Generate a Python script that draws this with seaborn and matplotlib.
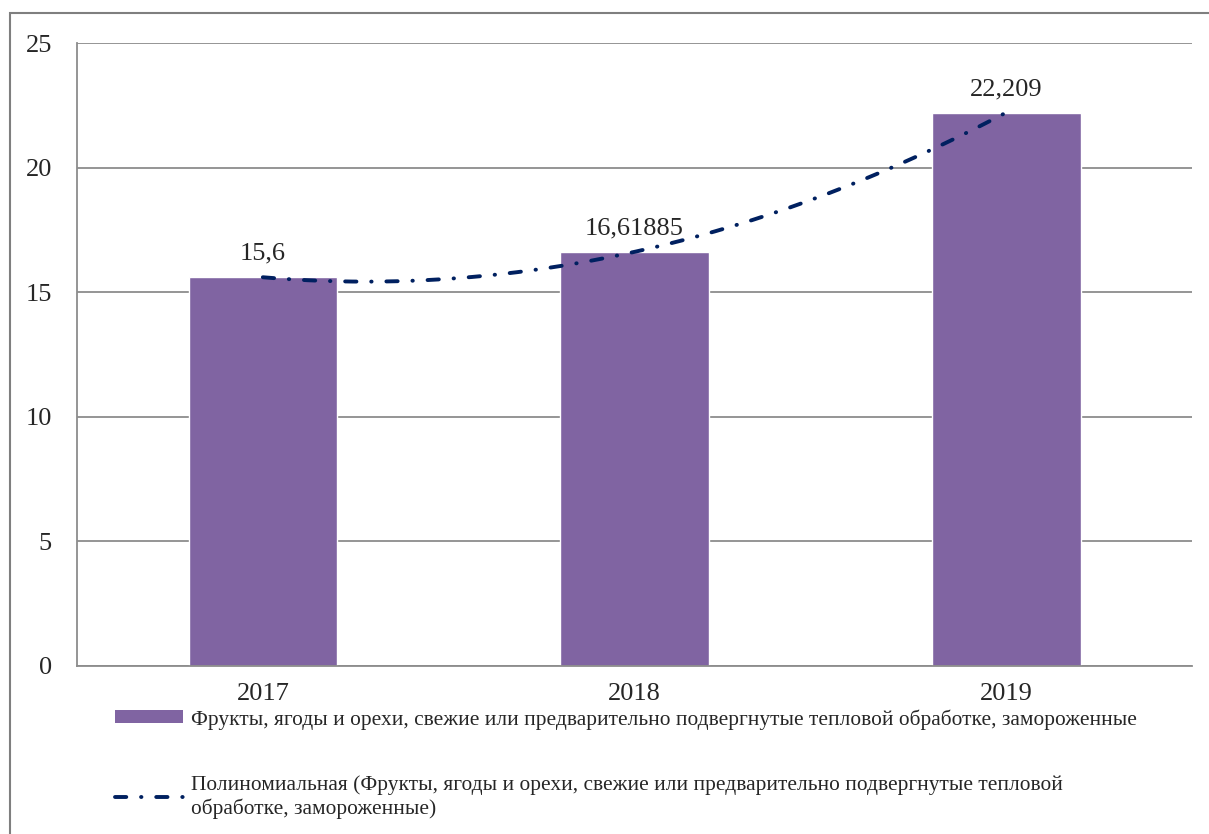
import numpy as np
import pandas as pd
import matplotlib
matplotlib.use("Agg")
import matplotlib.pyplot as plt
import seaborn as sns
from matplotlib.patches import Rectangle
from matplotlib.lines import Line2D

# данные
years = ["2017", "2018", "2019"]
values = [15.6, 16.61885, 22.209]
value_labels = ["15,6", "16,61885", "22,209"]
y_ticks = [0, 5, 10, 15, 20, 25]

series_name = ("Фрукты, ягоды и орехи, свежие или предварительно "
               "подвергнутые тепловой обработке, замороженные")
trend_name = ("Полиномиальная (Фрукты, ягоды и орехи, свежие или предварительно "
              "подвергнутые тепловой\nобработке, замороженные)")

bar_color = "#8064A2"
trend_color = "#002060"
grid_color = "#8c8c8c"
trend_style = (0, (2.9, 3.8, 0.1, 3.8))

sns.set_style("white")
plt.rcParams["font.family"] = ["Liberation Serif", "DejaVu Serif"]

df = pd.DataFrame({"year": years, "value": values})

fig = plt.figure(figsize=(12.09, 8.34), dpi=100)
ax = fig.add_axes([77 / 1209, 1 - 666 / 834, (1192 - 77) / 1209, (666 - 43) / 834])

sns.barplot(data=df, x="year", y="value", color=bar_color, saturation=1,
            width=0.4, ax=ax, zorder=2)

# полиномиальный тренд (2-я степень)
xs = np.arange(len(values))
coef = np.polyfit(xs, values, 2)
xx = np.linspace(0, len(values) - 1, 200)
ax.plot(xx, np.polyval(coef, xx), color=trend_color, lw=2.8,
        linestyle=trend_style, dash_capstyle="round", zorder=3)

# подписи значений
for i, (v, lab) in enumerate(zip(values, value_labels)):
    ax.text(i, v + 0.5, lab, ha="center", va="bottom", fontsize=19)

ax.set_ylim(0, 25)
ax.set_xlim(-0.5, 2.5)
ax.set_yticks(y_ticks)
ax.yaxis.grid(True, color=grid_color, lw=1.3, zorder=0)
ax.set_axisbelow(True)
ax.set_xlabel("")
ax.set_ylabel("")

for s in ["top", "right"]:
    ax.spines[s].set_visible(False)
for s in ["left", "bottom"]:
    ax.spines[s].set_color(grid_color)
    ax.spines[s].set_linewidth(1.3)

ax.tick_params(axis="y", length=6, width=1.3, color=grid_color, labelsize=19, pad=12)
ax.tick_params(axis="x", which="major", length=0, labelsize=19, pad=12)
ax.set_xticks([-0.5, 0.5, 1.5, 2.5], minor=True)
ax.tick_params(axis="x", which="minor", length=6, width=1.3, color=grid_color)

# легенда
handles = [
    Rectangle((0, 0), 1, 1, facecolor=bar_color, edgecolor="none"),
    Line2D([0], [0], color=trend_color, lw=2.8, linestyle=trend_style,
           dash_capstyle="round"),
]
fig.legend(handles, [series_name, trend_name], loc="upper left",
           bbox_to_anchor=(115 / 1209, 1 - 709 / 834), frameon=False,
           fontsize=15.4, handlelength=3.2, handleheight=0.55, handletextpad=0.33,
           labelspacing=2.15, borderpad=0, borderaxespad=0)

# рамка диаграммы
fig.patches.append(Rectangle((10 / 1209, -0.2), 2, 1.2 - 13 / 834,
                             transform=fig.transFigure, fill=False,
                             edgecolor="#7f7f7f", lw=1.5))

fig.savefig("out.png", dpi=100)
